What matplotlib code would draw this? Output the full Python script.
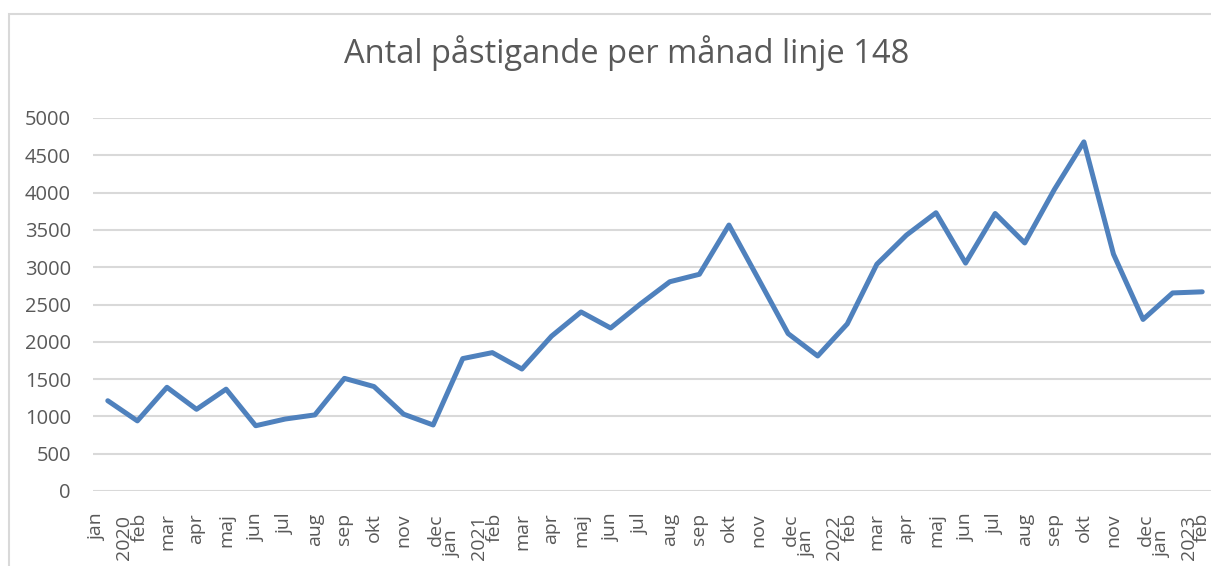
import matplotlib
matplotlib.use("Agg")
import matplotlib.pyplot as plt
from matplotlib.patches import Rectangle

months = ["jan", "feb", "mar", "apr", "maj", "jun", "jul", "aug", "sep", "okt", "nov", "dec",
          "jan", "feb", "mar", "apr", "maj", "jun", "jul", "aug", "sep", "okt", "nov", "dec",
          "jan", "feb", "mar", "apr", "maj", "jun", "jul", "aug", "sep", "okt", "nov", "dec",
          "jan", "feb"]
years = ["2020", "2021", "2022", "2023"]
values = [1210, 940, 1390, 1095, 1365, 875, 965, 1020, 1510, 1400, 1030, 885,
          1775, 1855, 1635, 2075, 2400, 2185, 2505, 2805, 2905, 3565, 2840, 2110,
          1810, 2240, 3040, 3430, 3730, 3055, 3720, 3325, 4040, 4680, 3175, 2300,
          2655, 2670]
title = "Antal påstigande per månad linje 148"

W, H = 1211, 566
DPI = 100
fig = plt.figure(figsize=(W / DPI, H / DPI), dpi=DPI)
plt.rcParams['font.family'] = ['Open Sans', 'DejaVu Sans']
grey = "#595959"
px = 72.0 / DPI  # points per pixel

# chart border
fig.patches.append(Rectangle((9 / W, -0.2), 1.2, (H - 14) / H + 0.2, transform=fig.transFigure,
                             fill=False, edgecolor="#D9D9D9", linewidth=1.5, zorder=0))

left, right, top, bottom = 93, 1217, 118, 491
ax = fig.add_axes([left / W, (H - bottom) / H, (right - left) / W, (bottom - top) / H])
x = list(range(len(values)))
ax.plot(x, values, color="#4F81BD", linewidth=5 * px, solid_joinstyle="round",
        solid_capstyle="round", zorder=3, clip_on=False)
ax.set_xlim(-0.5, len(values) - 0.5)
ax.set_ylim(0, 5000)
ax.set_yticks(range(0, 5001, 500))
ax.grid(axis="y", color="#D9D9D9", linewidth=1.5)
ax.set_axisbelow(True)
for s in ax.spines.values():
    s.set_visible(False)
ax.set_xticks([])
ax.tick_params(axis="y", length=0, pad=22 * px, labelsize=14.5, labelcolor=grey)

# category labels (months and years)
n = len(months)
yi = 0
for i, m in enumerate(months):
    dx, dy = 0, -22
    if m == "jan":
        dx = -11
        if i > 0 and months[i - 1] == "dec":
            dy = -39
    elif m == "feb":
        dx = 2 if i < n - 1 else 0
    elif m == "dec":
        dx = 3
    ax.annotate(m, xy=(i, 0), xycoords=("data", "axes fraction"),
                xytext=(dx * px, dy * px), textcoords="offset points",
                rotation=90, ha="center", va="top", fontsize=14, color=grey,
                annotation_clip=False)
    if m == "jan":
        ax.annotate(years[yi], xy=(i, 0), xycoords=("data", "axes fraction"),
                    xytext=(16 * px, -24 * px), textcoords="offset points",
                    rotation=90, ha="center", va="top", fontsize=14, color=grey,
                    annotation_clip=False)
        yi += 1

fig.text(627 / W, 1 - 63 / H, title, ha="center", va="baseline", fontsize=23.5, color=grey)

fig.savefig("out.png", dpi=DPI)
